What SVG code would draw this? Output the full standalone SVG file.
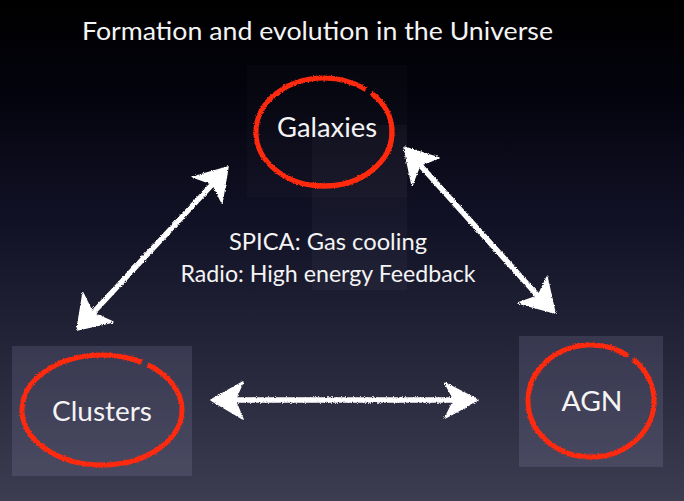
<svg xmlns="http://www.w3.org/2000/svg" width="684" height="501" viewBox="0 0 684 501">
  <defs>
    <linearGradient id="bg" x1="0" y1="0" x2="0" y2="1">
      <stop offset="0" stop-color="#000000"/>
      <stop offset="0.18" stop-color="#03030d"/>
      <stop offset="0.45" stop-color="#121227"/>
      <stop offset="0.75" stop-color="#29293e"/>
      <stop offset="1" stop-color="#3d3d52"/>
    </linearGradient>
    <filter id="rough" x="-10%" y="-10%" width="120%" height="120%">
      <feTurbulence type="fractalNoise" baseFrequency="0.9" numOctaves="2" seed="3" result="n"/>
      <feDisplacementMap in="SourceGraphic" in2="n" scale="3" xChannelSelector="R" yChannelSelector="G"/>
    </filter>
    <clipPath id="galClip">
      <rect x="312" y="127" width="100" height="80"/>
    </clipPath>
    <style>
      .ring { fill: none; stroke: #ff2a0e; stroke-width: 5; }
      .box { fill: #8c8cb0; fill-opacity: 0.2; }
      .lbl { font-family: "Lato", "Open Sans", "Liberation Sans", sans-serif; fill: #f4f4f4; text-anchor: middle; }
      .shaft { stroke: #ffffff; stroke-width: 5.5; stroke-linecap: round; fill: none; }
      .head { fill: #ffffff; stroke: #ffffff; stroke-width: 1.5; stroke-linejoin: round; }
    </style>
  </defs>

  <rect x="0" y="0" width="684" height="501" fill="url(#bg)"/>

  <text x="82" y="40" font-family="Lato, 'Open Sans', 'Liberation Sans', sans-serif" font-size="25" fill="#f4f4f4" textLength="471" lengthAdjust="spacingAndGlyphs">Formation and evolution in the Universe</text>

  <!-- faint backdrop rects -->
  <rect x="247" y="65" width="160" height="132" fill="#ffffff" fill-opacity="0.02"/>
  <rect x="312" y="125" width="95" height="165" fill="#ffffff" fill-opacity="0.03"/>

  <g id="galaxies">
    <ellipse class="ring" cx="324" cy="132" rx="68" ry="54" pathLength="100" stroke-dasharray="86.5 1.5 100" filter="url(#rough)"/>
    <ellipse class="ring" cx="324" cy="132" rx="68" ry="54" stroke="#e2583a" stroke-width="5.5" clip-path="url(#galClip)"/>
    <text class="lbl" x="327" y="137" font-size="27" textLength="100" lengthAdjust="spacingAndGlyphs">Galaxies</text>
  </g>

  <g id="clusters">
    <rect class="box" x="12" y="346" width="180" height="130"/>
    <ellipse class="ring" cx="102" cy="410" rx="80" ry="55" pathLength="100" stroke-dasharray="84.5 1.5 100" filter="url(#rough)"/>
    <text class="lbl" x="102" y="421" font-size="27" textLength="100" lengthAdjust="spacingAndGlyphs">Clusters</text>
  </g>

  <g id="agn">
    <rect class="box" x="519" y="336" width="144" height="131"/>
    <ellipse class="ring" cx="591" cy="401" rx="63" ry="56" pathLength="100" stroke-dasharray="85.5 1.5 100" filter="url(#rough)"/>
    <text class="lbl" x="592" y="411" font-size="27" textLength="61" lengthAdjust="spacingAndGlyphs">AGN</text>
  </g>

  <g id="note">
    <text class="lbl" x="328" y="250" font-size="23" textLength="198" lengthAdjust="spacingAndGlyphs">SPICA: Gas cooling</text>
    <text class="lbl" x="328" y="282" font-size="23" textLength="295" lengthAdjust="spacingAndGlyphs">Radio: High energy Feedback</text>
  </g>

  <g id="connectors" filter="url(#rough)">
    <!-- Clusters <-> Galaxies -->
    <line class="shaft" x1="92.8" y1="313" x2="212.6" y2="184"/>
    <polygon class="head" points="228,167 193,177 212.6,184 222,203"/>
    <polygon class="head" points="77,330 83,293 92.8,313 113,322"/>
    <!-- Galaxies <-> AGN -->
    <line class="shaft" x1="420" y1="165" x2="538" y2="296"/>
    <polygon class="head" points="404,147 439,158 420,165 412,185"/>
    <polygon class="head" points="555,313 547,277 538,296 518,303"/>
    <!-- Clusters <-> AGN -->
    <line class="shaft" x1="235" y1="400" x2="454" y2="400"/>
    <polygon class="head" points="211,400 243,382 235,400 243,419"/>
    <polygon class="head" points="478,400 445,383 454,400 445,418"/>
  </g>
</svg>
